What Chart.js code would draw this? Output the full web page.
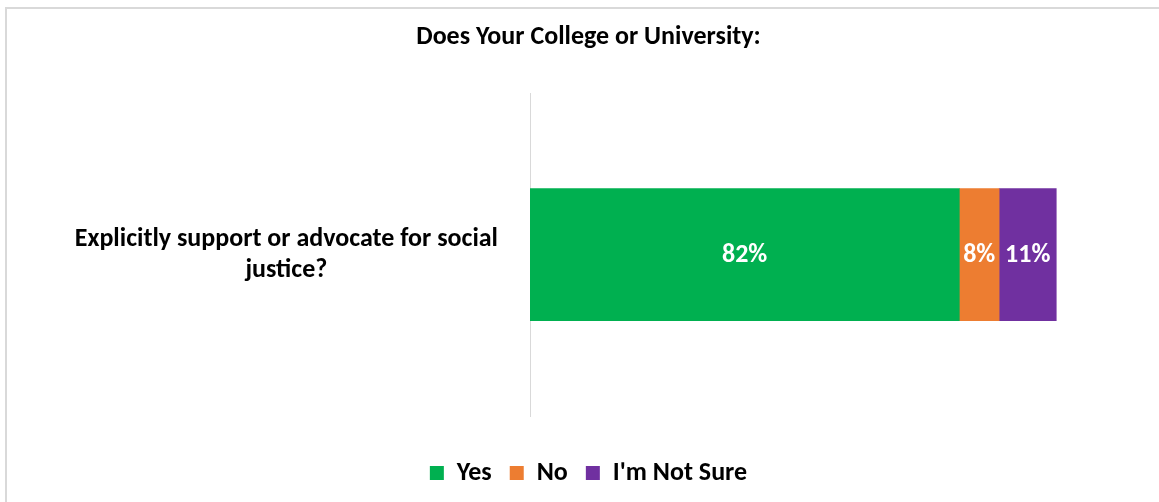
<!DOCTYPE html>
<html>
<head>
<meta charset="utf-8">
<script src="https://cdn.jsdelivr.net/npm/chart.js@4"></script>
<style>
  html, body { margin: 0; padding: 0; background: #fff; overflow: hidden; }
  #wrap { position: relative; width: 1159px; height: 502px; }
  #frame { position: absolute; left: 5px; top: 7px; width: 1200px; height: 600px; border: 2px solid #d9d9d9; box-sizing: border-box; }
  canvas { position: absolute; left: 0; top: 0; }
</style>
</head>
<body>
<div id="wrap">
  <div id="frame"></div>
  <canvas id="chart" width="1159" height="502"></canvas>
</div>
<script>
// datos
var categorias = [["Explicitly support or advocate for social", "justice?"]];
var series = ["Yes", "No", "I'm Not Sure"];
var valYes = [81.9];
var valNo = [7.6];
var valNoSure = [10.9];
var colores = ["#00B050", "#ED7D31", "#7030A0"];

var fuente = "Calibri, Carlito, Lato, sans-serif";

// etiquetas dentro de las barras
var etiquetas = {
    id: 'etiquetas',
    afterDatasetsDraw: function(chart) {
        var ctx = chart.ctx;
        ctx.save();
        ctx.fillStyle = '#fff';
        ctx.font = 'bold 26px ' + fuente;
        ctx.textAlign = 'center';
        ctx.textBaseline = 'middle';
        chart.data.datasets.forEach(function(ds, i) {
            var meta = chart.getDatasetMeta(i);
            meta.data.forEach(function(bar, j) {
                var cx = (bar.x + bar.base) / 2;
                ctx.fillText(Math.round(ds.data[j]) + '%', cx, bar.y + 1);
            });
        });
        ctx.restore();
    }
};

var ctx = document.getElementById("chart").getContext("2d");
new Chart(ctx, {
    type: 'bar',
    data: {
        labels: categorias,
        datasets: [
            { label: series[0], data: valYes, backgroundColor: colores[0], barThickness: 132 },
            { label: series[1], data: valNo, backgroundColor: colores[1], barThickness: 132 },
            { label: series[2], data: valNoSure, backgroundColor: colores[2], barThickness: 132 }
        ]
    },
    options: {
        indexAxis: 'y',
        responsive: false,
        animation: false,
        layout: { padding: { left: 18, right: 0, top: 0, bottom: 6 } },
        scales: {
            x: {
                stacked: true,
                min: 0,
                max: 120,
                ticks: { display: false },
                grid: { display: false },
                border: { display: false },
                afterFit: function(s) { s.height = 26; }
            },
            y: {
                stacked: true,
                grid: { display: false, drawTicks: false },
                border: { display: true, color: '#d9d9d9', width: 1 },
                ticks: {
                    color: '#000',
                    crossAlign: 'center',
                    padding: 32,
                    font: { family: fuente, size: 26, weight: 'bold', lineHeight: 1.2 }
                },
                afterFit: function(s) { s.width = 512; }
            }
        },
        plugins: {
            title: {
                display: true,
                text: 'Does Your College or University:',
                color: '#000',
                font: { family: fuente, size: 26, weight: 'bold' },
                padding: { top: 22, bottom: 40 }
            },
            legend: {
                position: 'bottom',
                labels: {
                    color: '#000',
                    boxWidth: 14,
                    boxHeight: 14,
                    padding: 18,
                    font: { family: fuente, size: 26, weight: 'bold' }
                }
            },
            tooltip: { enabled: false }
        }
    },
    plugins: [etiquetas]
});
</script>
</body>
</html>
